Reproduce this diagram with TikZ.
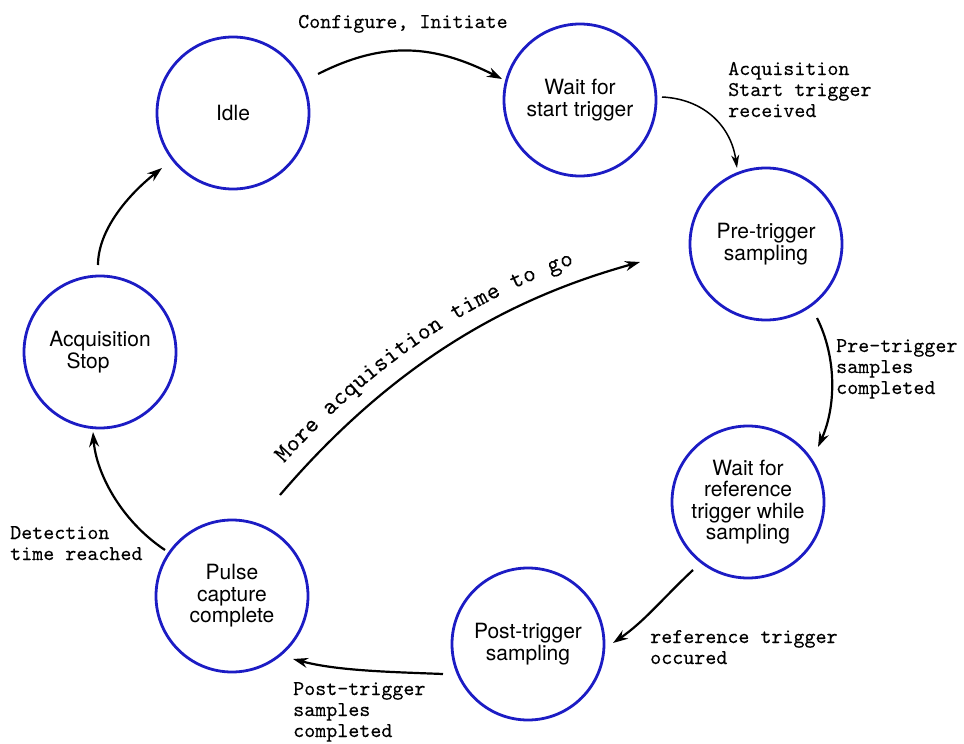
\documentclass[tikz,border=0pt]{standalone}
\usepackage{fontspec}
\setmainfont{TeX Gyre Heros}
\setmonofont[FakeBold=0.12]{lmmono10-regular.otf}
\usetikzlibrary{arrows.meta,decorations.text}
\definecolor{stateblue}{RGB}{28,28,196}
\begin{document}
\begin{tikzpicture}[x=1pt,y=-1pt,
  state/.style={circle,draw=stateblue,line width=2.8pt,minimum size=152pt,inner sep=0pt,align=center,
    font=\fontsize{21}{21.5}\selectfont},
  trans/.style={line width=2.2pt,-{Stealth[length=15pt,width=10pt,inset=5pt]}},
  thintrans/.style={line width=1.5pt,-{Stealth[length=13pt,width=8pt,inset=4pt]}},
  lab/.style={font=\ttfamily\fontsize{21}{21}\selectfont,align=left,inner sep=0pt,anchor=base west}]
\useasboundingbox (0,0) rectangle (964,744);

\node[state] (idle)  at (233,113) {Idle};
\node[state] (wait)  at (580,100) {Wait for\\start trigger};
\node[state] (pre)   at (766,244) {Pre-trigger\\sampling};
\node[state] (ref)   at (748,502) {Wait for\\reference\\trigger while\\sampling};
\node[state] (post)  at (528,644) {Post-trigger\\sampling};
\node[state] (pulse) at (232,596) {Pulse\\capture\\complete};
\node[state] (stop)  at (100,352) {Acquisition\\Stop\hspace*{24pt}};

\draw[trans] ([shift={(85,-39)}]idle.center) .. controls +(67,-34) and +(-67,-34) .. ([shift={(-78,-21)}]wait.center);
\draw[thintrans] ([shift={(82,-3)}]wait.center) .. controls +(42,2) and +(-6,-42) .. ([shift={(-29,-76)}]pre.center);
\draw[trans] ([shift={(51,74)}]pre.center) .. controls +(20,40) and +(18,-40) .. ([shift={(70,-55)}]ref.center);
\draw[trans] ([shift={(-55,68)}]ref.center) .. controls +(-30,28) and +(32,-22) .. ([shift={(85,-1)}]post.center);
\draw[trans] ([shift={(-85,30)}]post.center) .. controls +(-50,-2) and +(45,12) .. ([shift={(61,63)}]pulse.center);
\draw[trans] ([shift={(-67,-46)}]pulse.center) .. controls +(-45,-30) and +(3,40) .. ([shift={(-7,80)}]stop.center);
\draw[trans] ([shift={(-2,-87)}]stop.center) .. controls +(0,-35) and +(-34,27) .. ([shift={(-71,55)}]idle.center);
\draw[trans, postaction={decorate, decoration={text along path,
    text={|\ttfamily\fontsize{24.5}{24.5}\selectfont|More acquisition time to go},
    raise=18pt, text align={left indent=26pt}}}]
  ([shift={(48,-101)}]pulse.center) .. controls +(123.5,-144.4) and +(-115,32) .. ([shift={(-126,18)}]pre.center);

\node[lab] (l1) at (298,28) {Configure, Initiate};
\node[lab] (l2) at (728,117) {Acquisition\\Start trigger\\received};
\node[lab] (l3) at (836,394) {Pre-trigger\\samples\\completed};
\node[lab] (l4) at (650,664) {reference trigger\\occured};
\node[lab] (l5) at (293,737) {Post-trigger\\samples\\completed};
\node[lab] (l6) at (10,560) {Detection\\time reached};
\end{tikzpicture}
\end{document}
